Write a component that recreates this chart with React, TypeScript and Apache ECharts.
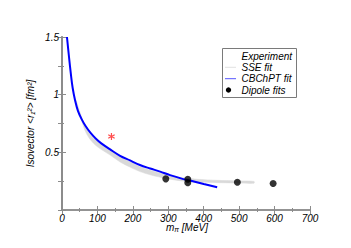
import React, { useEffect, useRef } from "react";
import * as echarts from "echarts";

// ---- data ----
const xTicks = [0, 100, 200, 300, 400, 500, 600, 700];
const yTicks = [0, 0.5, 1, 1.5];

// Experiment point (m_pi, <r1^2>)
const experiment = [[139.6, 0.637]];

// CBChPT fit (blue curve)
const cbchptX = [14, 20, 25, 30, 37, 45, 55, 66, 80, 95, 110, 136, 164, 192, 220, 249, 277, 305, 340, 361, 400, 438];
const cbchptY = [1.5, 1.32, 1.18, 1.06, 0.95, 0.86, 0.79, 0.73, 0.67, 0.62, 0.58, 0.525, 0.47, 0.43, 0.39, 0.36, 0.333, 0.302, 0.27, 0.255, 0.225, 0.197];

// SSE fit band (gray)
const sseX = [40, 50, 66, 80, 100, 136, 164, 192, 220, 249, 280, 305, 340, 380, 440, 500, 542];
const sseMid = [0.94, 0.84, 0.70, 0.63, 0.57, 0.50, 0.44, 0.395, 0.355, 0.325, 0.30, 0.283, 0.265, 0.255, 0.247, 0.243, 0.24];
const sseHalf = [0.01, 0.014, 0.018, 0.02, 0.022, 0.024, 0.024, 0.023, 0.022, 0.02, 0.018, 0.016, 0.014, 0.012, 0.01, 0.009, 0.008];

// Dipole fits (black dots)
const dipoleX = [293, 355, 355, 495, 596];
const dipoleY = [0.27, 0.267, 0.237, 0.24, 0.229];

const legendNames = ["Experiment", "SSE fit", "CBChPT fit", "Dipole fits"];

const ASTERISK =
  "path://M42 0 L58 0 L58 100 L42 100 Z M3 32 L11 18 L97 68 L89 82 Z M89 18 L97 32 L11 82 L3 68 Z";

const FONT = "'Liberation Sans', Arial, sans-serif";
const AXIS_GRAY = "#8c8c8c";

export default function App() {
  const ref = useRef<HTMLDivElement>(null);

  useEffect(() => {
    if (!ref.current) return;
    const chart = echarts.init(ref.current, null, { renderer: "svg" });

    const bandData = sseX.map((x, i) => [x, sseMid[i] - sseHalf[i], sseMid[i] + sseHalf[i]]);

    const tickStyle = { show: true, inside: true, length: 4, lineStyle: { color: AXIS_GRAY, width: 1 } };
    const minorStyle = { show: true, splitNumber: 2, length: 2, lineStyle: { color: AXIS_GRAY, width: 1 } };
    const labelStyle = { fontFamily: FONT, fontStyle: "italic" as const, fontSize: 10, color: "#000" };

    const legendTop = 48.5;
    const rowY = [56, 67.3, 78.7, 90];

    chart.setOption({
      animation: false,
      grid: { left: 62, right: 41, top: 37, bottom: 38 },
      xAxis: [
        {
          type: "value",
          min: 0,
          max: 700,
          interval: 100,
          position: "bottom",
          axisLine: { show: true, lineStyle: { color: AXIS_GRAY, width: 1.5 } },
          axisTick: tickStyle,
          minorTick: minorStyle,
          splitLine: { show: false },
          axisLabel: { ...labelStyle, margin: 3, formatter: (v: number) => (xTicks.includes(v) ? String(v) : "") },
        },
        {
          type: "value",
          min: 0,
          max: 700,
          interval: 100,
          position: "top",
          axisLine: { show: true, lineStyle: { color: AXIS_GRAY, width: 1.5 } },
          axisTick: tickStyle,
          minorTick: minorStyle,
          splitLine: { show: false },
          axisLabel: { show: false },
        },
      ],
      yAxis: [
        {
          type: "value",
          min: 0,
          max: 1.5,
          interval: 0.5,
          position: "left",
          axisLine: { show: true, lineStyle: { color: AXIS_GRAY, width: 2 } },
          axisTick: tickStyle,
          minorTick: minorStyle,
          splitLine: { show: false },
          axisLabel: {
            ...labelStyle,
            margin: 3,
            formatter: (v: number) => (v === 0 || !yTicks.includes(v) ? "" : String(v)),
          },
        },
        {
          type: "value",
          min: 0,
          max: 1.5,
          interval: 0.5,
          position: "right",
          axisLine: { show: true, lineStyle: { color: AXIS_GRAY, width: 1.5 } },
          axisTick: tickStyle,
          minorTick: { ...minorStyle, length: 4 },
          splitLine: { show: false },
          axisLabel: { show: false },
        },
      ],
      series: [
        {
          name: legendNames[1],
          type: "custom",
          xAxisIndex: 0,
          yAxisIndex: 0,
          data: bandData,
          encode: { x: 0, y: [1, 2] },
          clip: true,
          z: 1,
          renderItem: (params: any, api: any) => {
            if (params.dataIndex !== 0) return null;
            const upper = bandData.map((d) => api.coord([d[0], d[2]]));
            const lower = bandData.map((d) => api.coord([d[0], d[1]])).reverse();
            return {
              type: "polygon",
              shape: { points: upper.concat(lower), smooth: 0.3 },
              style: { fill: "#d9d9d9", stroke: "#d9d9d9", lineWidth: 0.5 },
            };
          },
        },
        {
          name: legendNames[2],
          type: "line",
          data: cbchptX.map((x, i) => [x, cbchptY[i]]),
          showSymbol: false,
          smooth: 0.35,
          lineStyle: { color: "#0000ff", width: 2 },
          z: 3,
        },
        {
          name: legendNames[0],
          type: "scatter",
          data: experiment,
          symbol: ASTERISK,
          symbolSize: 7,
          itemStyle: { color: "#ff2020" },
          z: 4,
        },
        {
          name: legendNames[3],
          type: "scatter",
          data: dipoleX.map((x, i) => [x, dipoleY[i]]),
          symbol: "circle",
          symbolSize: 7,
          itemStyle: { color: "#000" },
          z: 5,
        },
      ],
      graphic: [
        {
          type: "text",
          x: 166,
          y: 222,
          style: {
            text: "m{sub|π} [MeV]",
            x: 0,
            y: 0,
            align: "left",
            verticalAlign: "top",
            fontFamily: FONT,
            fontStyle: "italic",
            fontSize: 10,
            fill: "#000",
            rich: {
              sub: { fontFamily: FONT, fontStyle: "italic", fontSize: 7, padding: [4, 0, 0, 0] },
            },
          },
        },
        {
          type: "text",
          x: 30,
          y: 123.5,
          rotation: Math.PI / 2,
          style: {
            text: "Isovector <r₁²> [fm²]",
            x: 0,
            y: 0,
            fontFamily: FONT,
            fontStyle: "italic",
            fontSize: 10,
            fill: "#000",
            align: "center",
            verticalAlign: "middle",
          },
        },
        {
          type: "rect",
          shape: { x: 222.5, y: legendTop, width: 74, height: 49 },
          style: { fill: "#fff", stroke: "#7a7a7a", lineWidth: 1 },
          z: 10,
        },
        {
          type: "group",
          z: 11,
          children: [
            { type: "line", shape: { x1: 228.5, y1: rowY[0] - 2.5, x2: 228.5, y2: rowY[0] + 2.5 }, style: { stroke: "#ff2020", lineWidth: 1.2 } },
            { type: "line", shape: { x1: 226.3, y1: rowY[0] - 1.3, x2: 230.7, y2: rowY[0] + 1.3 }, style: { stroke: "#ff2020", lineWidth: 1.2 } },
            { type: "line", shape: { x1: 226.3, y1: rowY[0] + 1.3, x2: 230.7, y2: rowY[0] - 1.3 }, style: { stroke: "#ff2020", lineWidth: 1.2 } },
          ],
        },
        { type: "line", z: 11, shape: { x1: 225, y1: rowY[1], x2: 236, y2: rowY[1] }, style: { stroke: "#e2e2e2", lineWidth: 1 } },
        { type: "line", z: 11, shape: { x1: 225, y1: rowY[2], x2: 236, y2: rowY[2] }, style: { stroke: "#5555ff", lineWidth: 1 } },
        { type: "circle", z: 11, shape: { cx: 228.5, cy: rowY[3], r: 2.7 }, style: { fill: "#000" } },
        ...legendNames.map((n, i) => ({
          type: "text",
          z: 11,
          x: 241.5,
          y: rowY[i] - 6,
          style: {
            text: `{t|${n}}`,
            x: 0,
            y: 0,
            align: "left",
            verticalAlign: "top",
            fontFamily: FONT,
            fontStyle: "italic",
            fontSize: 10,
            fill: "#000",
            rich: {
              t: { fontFamily: FONT, fontStyle: "italic", fontSize: 10, lineHeight: 12, align: "left" },
            },
          },
        })),
      ],
    });

    return () => chart.dispose();
  }, []);

  return <div ref={ref} style={{ position: "absolute", left: 0, top: 0, width: 351, height: 248 }} />;
}
